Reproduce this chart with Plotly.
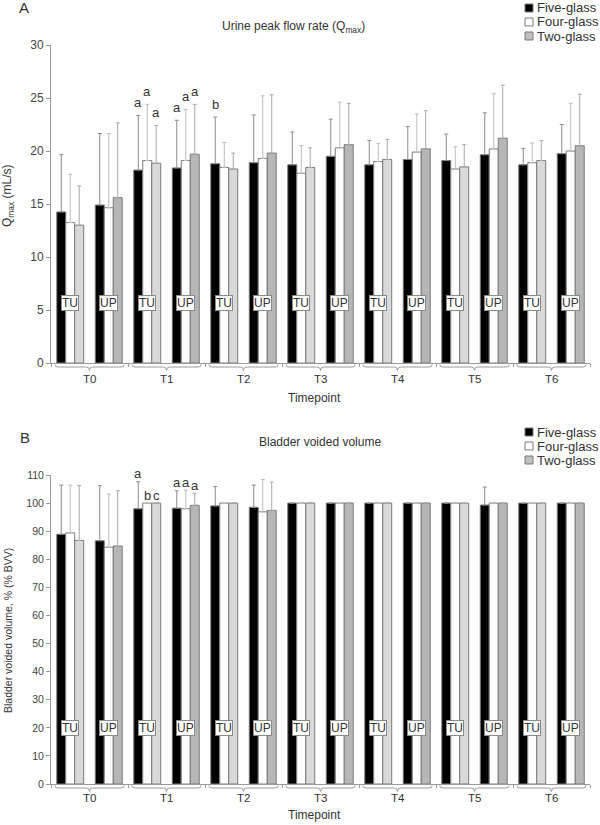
import plotly.graph_objects as go
from plotly.subplots import make_subplots

# ---------------- data ----------------
timepoints = ["T0", "T1", "T2", "T3", "T4", "T5", "T6"]
subgroups = ["TU", "UP"]
series_names = ["Five-glass", "Four-glass", "Two-glass"]

# Qmax (mL/s): order T0-TU, T0-UP, T1-TU, T1-UP, ...
qmax_five = [14.25, 14.9, 18.2, 18.4, 18.8, 18.9, 18.7, 19.5, 18.7, 19.2, 19.1, 19.65, 18.7, 19.75]
qmax_four = [13.25, 14.65, 19.1, 19.1, 18.45, 19.3, 17.9, 20.3, 19.0, 19.9, 18.3, 20.2, 18.9, 20.0]
qmax_two = [13.0, 15.6, 18.85, 19.7, 18.3, 19.8, 18.45, 20.6, 19.2, 20.2, 18.5, 21.2, 19.1, 20.5]
qmax_five_sd = [5.4, 6.75, 5.15, 4.5, 4.4, 4.5, 3.1, 3.5, 2.3, 3.1, 2.5, 3.95, 1.55, 2.75]
qmax_four_sd = [4.55, 7.0, 5.3, 4.8, 2.35, 5.9, 2.6, 4.3, 1.7, 3.6, 2.1, 5.2, 1.85, 4.5]
qmax_two_sd = [3.7, 7.05, 3.55, 4.7, 1.5, 5.5, 1.85, 3.9, 1.9, 3.6, 2.1, 5.0, 1.9, 4.85]
qmax_five_sig = ["", "", "a", "a", "b", "", "", "", "", "", "", "", "", ""]
qmax_four_sig = ["", "", "a", "a", "", "", "", "", "", "", "", "", "", ""]
qmax_two_sig = ["", "", "a", "a", "", "", "", "", "", "", "", "", "", ""]

# Bladder voided volume (% BVV)
bvv_five = [88.9, 86.6, 98.0, 98.2, 99.0, 98.5, 100, 100, 100, 100, 100, 99.3, 100, 100]
bvv_four = [89.4, 84.3, 100, 98.0, 100, 96.9, 100, 100, 100, 100, 100, 100, 100, 100]
bvv_two = [86.7, 84.7, 100, 99.2, 100, 97.4, 100, 100, 100, 100, 100, 100, 100, 100]
bvv_five_sd = [17.5, 19.6, 9.6, 6.2, 6.9, 7.9, 0, 0, 0, 0, 0, 6.4, 0, 0]
bvv_four_sd = [17.0, 18.9, 0, 6.6, 0, 11.5, 0, 0, 0, 0, 0, 0, 0, 0]
bvv_two_sd = [19.5, 19.7, 0, 4.3, 0, 10.1, 0, 0, 0, 0, 0, 0, 0, 0]
bvv_five_sig = ["", "", "a", "a", "", "", "", "", "", "", "", "", "", ""]
bvv_four_sig = ["", "", "b", "a", "", "", "", "", "", "", "", "", "", ""]
bvv_two_sig = ["", "", "c", "a", "", "", "", "", "", "", "", "", "", ""]

# ---------------- layout helpers ----------------
W, H = 600, 825
ML, MR, MT, MB = 51, 10, 45, 41
PW, PH = W - ML - MR, H - MT - MB


def pxx(p):
    return (p - ML) / PW


def pxy(p):
    return (H - MB - p) / PH


FONT = "Liberation Sans, Arial, sans-serif"
TXT = "#333333"
AXC = "#9a9a9a"

x_pos = [i + 0.25 + 0.5 * j for i in range(len(timepoints)) for j in range(len(subgroups))]
n = len(x_pos)
BARGAP = 0.3
bar_w = (1 - BARGAP) * 0.5 / 3

two_colors = ["#d9d9d9" if s == "TU" else "#b6b6b6" for _ in timepoints for s in subgroups]
fills = ["#000000", "#ffffff", two_colors]
err_colors = ["#8c8c8c", "#bdbdbd", "#a8a8a8"]
legend_fill = ["#000000", "#ffffff", "#c0c0c0"]

top_dom = [pxy(363), 1.0]
bot_dom = [0.0, pxy(475)]

fig = make_subplots(rows=2, cols=1)

charts = [
    dict(row=1, vals=[qmax_five, qmax_four, qmax_two], sds=[qmax_five_sd, qmax_four_sd, qmax_two_sd],
         sigs=[qmax_five_sig, qmax_four_sig, qmax_two_sig], xa="x", ya="y"),
    dict(row=2, vals=[bvv_five, bvv_four, bvv_two], sds=[bvv_five_sd, bvv_four_sd, bvv_two_sd],
         sigs=[bvv_five_sig, bvv_four_sig, bvv_two_sig], xa="x2", ya="y2"),
]

annotations = []
shapes = []

for ch in charts:
    for k in range(3):
        fig.add_trace(go.Bar(
            x=x_pos, y=ch["vals"][k], name=series_names[k], showlegend=False,
            marker=dict(color=fills[k], line=dict(color="#7a7a7a", width=1)),
            error_y=dict(type="data", array=ch["sds"][k], arrayminus=[0] * n, symmetric=False,
                         color=err_colors[k], thickness=1, width=2),
        ), row=ch["row"], col=1)
        # significance letters
        yshift = 13 if ch["row"] == 1 else 8
        for idx in range(n):
            lab = ch["sigs"][k][idx]
            if lab:
                annotations.append(dict(
                    x=x_pos[idx] + (k - 1) * bar_w, y=ch["vals"][k][idx] + ch["sds"][k][idx],
                    xref=ch["xa"], yref=ch["ya"], text=lab, showarrow=False,
                    yanchor="middle", yshift=yshift, font=dict(size=13, color=TXT, family=FONT)))
    # TU / UP boxes
    lab_y = 5.7 if ch["row"] == 1 else 20
    for idx in range(n):
        annotations.append(dict(
            x=x_pos[idx], y=lab_y, xref=ch["xa"], yref=ch["ya"], text=subgroups[idx % 2],
            showarrow=False, bgcolor="#ffffff", bordercolor="#8a8a8a", borderwidth=1, borderpad=0,
            font=dict(size=12, color=TXT, family=FONT)))

# braces and timepoint labels
for row, (ytop, ymid, ybot, ylab, ytitle) in [(1, (364.5, 367, 370.5, 379, 398)), (2, (785.5, 788, 791.5, 798, 815))]:
    xa = "x" if row == 1 else "x2"
    yt, ym, yb = pxy(ytop), pxy(ymid), pxy(ybot)
    for i, tp in enumerate(timepoints):
        xl, xr, xc, d = i + 0.05, i + 0.95, i + 0.5, 0.04
        path = (f"M {xl},{yt} Q {xl},{ym} {xl + d},{ym} L {xc - d},{ym} Q {xc},{ym} {xc},{yb} "
                f"Q {xc},{ym} {xc + d},{ym} L {xr - d},{ym} Q {xr},{ym} {xr},{yt}")
        shapes.append(dict(type="path", path=path, xref=xa, yref="paper",
                           line=dict(color=AXC, width=1)))
        annotations.append(dict(x=xc, y=pxy(ylab), xref=xa, yref="paper", text=tp, showarrow=False,
                                yanchor="middle", font=dict(size=11.5, color=TXT, family=FONT)))
    annotations.append(dict(x=pxx(314), y=pxy(ytitle), xref="paper", yref="paper", text="Timepoint",
                            showarrow=False, yanchor="middle", font=dict(size=12, color=TXT, family=FONT)))

# panel letters, titles, axis titles
annotations += [
    dict(x=pxx(17), y=pxy(8), xref="paper", yref="paper", text="A", showarrow=False,
         yanchor="middle", font=dict(size=15, color=TXT, family=FONT)),
    dict(x=pxx(18), y=pxy(437), xref="paper", yref="paper", text="B", showarrow=False,
         yanchor="middle", font=dict(size=15, color=TXT, family=FONT)),
    dict(x=pxx(293), y=pxy(27), xref="paper", yref="paper", text="Urine peak flow rate (Q<sub>max</sub>)",
         showarrow=False, yanchor="middle", font=dict(size=12, color=TXT, family=FONT)),
    dict(x=pxx(320), y=pxy(442), xref="paper", yref="paper", text="Bladder voided volume",
         showarrow=False, yanchor="middle", font=dict(size=12, color=TXT, family=FONT)),
    dict(x=pxx(8), y=pxy(196), xref="paper", yref="paper", text="Q<sub>max</sub> (mL/s)", textangle=-90,
         showarrow=False, xanchor="center", yanchor="middle", font=dict(size=12, color=TXT, family=FONT)),
    dict(x=pxx(8), y=pxy(631), xref="paper", yref="paper", text="Bladder voided volume, % (% BVV)",
         textangle=-90, showarrow=False, xanchor="center", yanchor="middle",
         font=dict(size=10.5, color=TXT, family=FONT)),
]

# manual legends
for rows_y in [(8, 22, 36), (432, 446, 460)]:
    for k, yc in enumerate(rows_y):
        shapes.append(dict(type="rect", xref="paper", yref="paper",
                           x0=pxx(525), x1=pxx(533), y0=pxy(yc + 4), y1=pxy(yc - 4),
                           fillcolor=legend_fill[k], line=dict(color="#7a7a7a", width=1)))
        annotations.append(dict(x=pxx(535), y=pxy(yc), xref="paper", yref="paper", text=series_names[k],
                                showarrow=False, xanchor="left", yanchor="middle",
                                font=dict(size=13, color=TXT, family=FONT)))

axis_common = dict(showgrid=False, zeroline=False, showline=True, linecolor=AXC, linewidth=1,
                   ticks="outside", tickcolor=AXC, mirror=False)

fig.update_layout(
    width=W, height=H, margin=dict(l=ML, r=MR, t=MT, b=MB),
    paper_bgcolor="#ffffff", plot_bgcolor="#ffffff",
    barmode="group", bargap=BARGAP, bargroupgap=0,
    showlegend=False, annotations=annotations, shapes=shapes,
    font=dict(family=FONT, color=TXT),
)
fig.update_xaxes(range=[0, len(timepoints)], tickvals=list(range(len(timepoints) + 1)),
                 showticklabels=False, ticklen=3, **axis_common)
fig.update_xaxes(domain=[0, 1], row=1, col=1)
fig.update_xaxes(domain=[0, 1], row=2, col=1)
fig.update_yaxes(domain=top_dom, range=[0, 30], dtick=5, ticklen=4,
                 tickfont=dict(size=12, color="#444444", family=FONT), row=1, col=1, **axis_common)
fig.update_yaxes(domain=bot_dom, range=[0, 110], dtick=10, ticklen=4,
                 tickfont=dict(size=10.5, color="#444444", family=FONT), row=2, col=1, **axis_common)

fig.write_html("out.html", config={"displayModeBar": False},
               post_script="document.body.style.margin='0px';document.body.style.overflow='hidden';")
